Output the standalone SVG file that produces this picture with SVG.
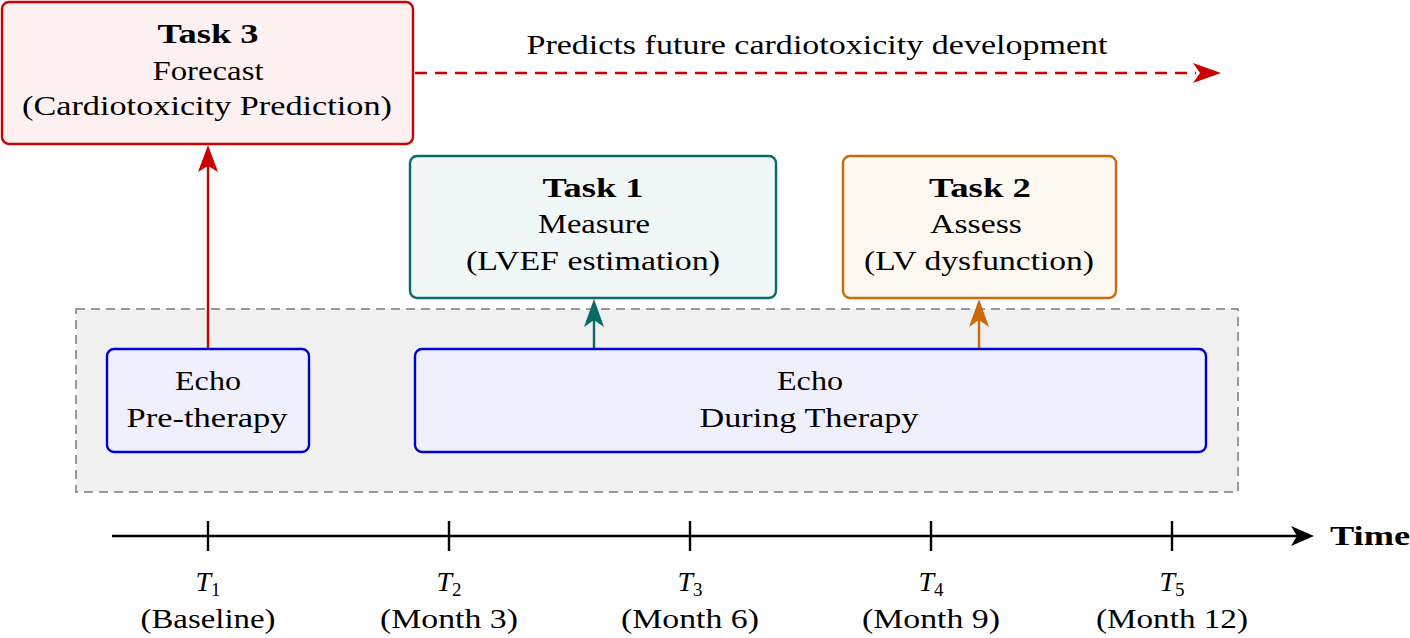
<svg xmlns="http://www.w3.org/2000/svg" width="1410" height="638" viewBox="0 0 1410 638">
<style>
text{font-family:"Liberation Serif","Times New Roman",serif;font-size:28px;fill:#000;text-anchor:middle}
.b{font-weight:bold}
.i{font-style:italic}
.box{stroke-width:2.4}
</style>
<rect width="1410" height="638" fill="#fff"/>
<g id="group-bg">
<rect x="76" y="309" width="1162" height="183" fill="#f0f0f0" stroke="#999" stroke-width="2" stroke-dasharray="9 6"/>
</g>
<g id="connectors">
<line x1="413" y1="73" x2="1196" y2="73" stroke="#cc0000" stroke-width="2.6" stroke-dasharray="12 8" stroke-dashoffset="-2"/>
<path d="M1221,73 L1193,63 L1200,73 L1193,83 Z" fill="#cc0000"/>
<line x1="208" y1="349" x2="208" y2="160" stroke="#cc0000" stroke-width="2.4"/>
<path d="M208,145 L198,172 L208,166 L218,172 Z" fill="#cc0000"/>
<line x1="594" y1="349" x2="594" y2="312" stroke="#0a6b66" stroke-width="2.4"/>
<path d="M594,299 L584,327 L594,320 L604,327 Z" fill="#0a6b66"/>
<line x1="979" y1="349" x2="979" y2="312" stroke="#cc6a0a" stroke-width="2.4"/>
<path d="M979,299 L969,327 L979,320 L989,327 Z" fill="#cc6a0a"/>
</g>
<g id="task3">
<rect class="box" x="2" y="2" width="411" height="142" rx="7" fill="#fdf0f0" stroke="#cc0000"/>
<text class="b" x="208" y="43" textLength="101" lengthAdjust="spacingAndGlyphs">Task 3</text>
<text x="208" y="80" textLength="111" lengthAdjust="spacingAndGlyphs">Forecast</text>
<text x="207" y="115" textLength="370" lengthAdjust="spacingAndGlyphs">(Cardiotoxicity Prediction)</text>
</g>
<g id="predicts-label">
<text x="817" y="54" textLength="581" lengthAdjust="spacingAndGlyphs">Predicts future cardiotoxicity development</text>
</g>
<g id="task1">
<rect class="box" x="410" y="156" width="366" height="142" rx="7" fill="#eff7f7" stroke="#0a6b66"/>
<text class="b" x="593" y="197" textLength="101" lengthAdjust="spacingAndGlyphs">Task 1</text>
<text x="594" y="233" textLength="112" lengthAdjust="spacingAndGlyphs">Measure</text>
<text x="593" y="270" textLength="254" lengthAdjust="spacingAndGlyphs">(LVEF estimation)</text>
</g>
<g id="task2">
<rect class="box" x="843" y="156" width="273" height="142" rx="7" fill="#fff8f0" stroke="#cc6a0a"/>
<text class="b" x="980" y="197" textLength="102" lengthAdjust="spacingAndGlyphs">Task 2</text>
<text x="976" y="233" textLength="92" lengthAdjust="spacingAndGlyphs">Assess</text>
<text x="979" y="270" textLength="230" lengthAdjust="spacingAndGlyphs">(LV dysfunction)</text>
</g>
<g id="echo-pre">
<rect class="box" x="107" y="349" width="202" height="103" rx="7" fill="#f0f0fc" stroke="#0000cc"/>
<text x="208" y="390" textLength="66" lengthAdjust="spacingAndGlyphs">Echo</text>
<text x="207" y="427" textLength="161" lengthAdjust="spacingAndGlyphs">Pre-therapy</text>
</g>
<g id="echo-during">
<rect class="box" x="415" y="349" width="791" height="103" rx="7" fill="#f0f0fc" stroke="#0000cc"/>
<text x="810" y="390" textLength="66" lengthAdjust="spacingAndGlyphs">Echo</text>
<text x="809" y="427" textLength="219" lengthAdjust="spacingAndGlyphs">During Therapy</text>
</g>
<g id="timeline">
<line x1="112" y1="536" x2="1300" y2="536" stroke="#000" stroke-width="2.4"/>
<path d="M1314,536 L1291,526 L1297,536 L1291,546 Z" fill="#000"/>
<g stroke="#000" stroke-width="2.4">
<line x1="208" y1="521" x2="208" y2="551"/>
<line x1="449" y1="521" x2="449" y2="551"/>
<line x1="690" y1="521" x2="690" y2="551"/>
<line x1="931" y1="521" x2="931" y2="551"/>
<line x1="1172" y1="521" x2="1172" y2="551"/>
</g>
<text class="b" x="1370" y="545" textLength="80" lengthAdjust="spacingAndGlyphs">Time</text>
</g>
<g id="t1"><text x="208" y="591"><tspan class="i">T</tspan><tspan font-size="19" dy="5">1</tspan></text><text x="208" y="628" textLength="135" lengthAdjust="spacingAndGlyphs">(Baseline)</text></g>
<g id="t2"><text x="449" y="591"><tspan class="i">T</tspan><tspan font-size="19" dy="5">2</tspan></text><text x="449" y="628" textLength="138" lengthAdjust="spacingAndGlyphs">(Month 3)</text></g>
<g id="t3"><text x="690" y="591"><tspan class="i">T</tspan><tspan font-size="19" dy="5">3</tspan></text><text x="690" y="628" textLength="138" lengthAdjust="spacingAndGlyphs">(Month 6)</text></g>
<g id="t4"><text x="931" y="591"><tspan class="i">T</tspan><tspan font-size="19" dy="5">4</tspan></text><text x="931" y="628" textLength="138" lengthAdjust="spacingAndGlyphs">(Month 9)</text></g>
<g id="t5"><text x="1172" y="591"><tspan class="i">T</tspan><tspan font-size="19" dy="5">5</tspan></text><text x="1172" y="628" textLength="152" lengthAdjust="spacingAndGlyphs">(Month 12)</text></g>
</svg>
